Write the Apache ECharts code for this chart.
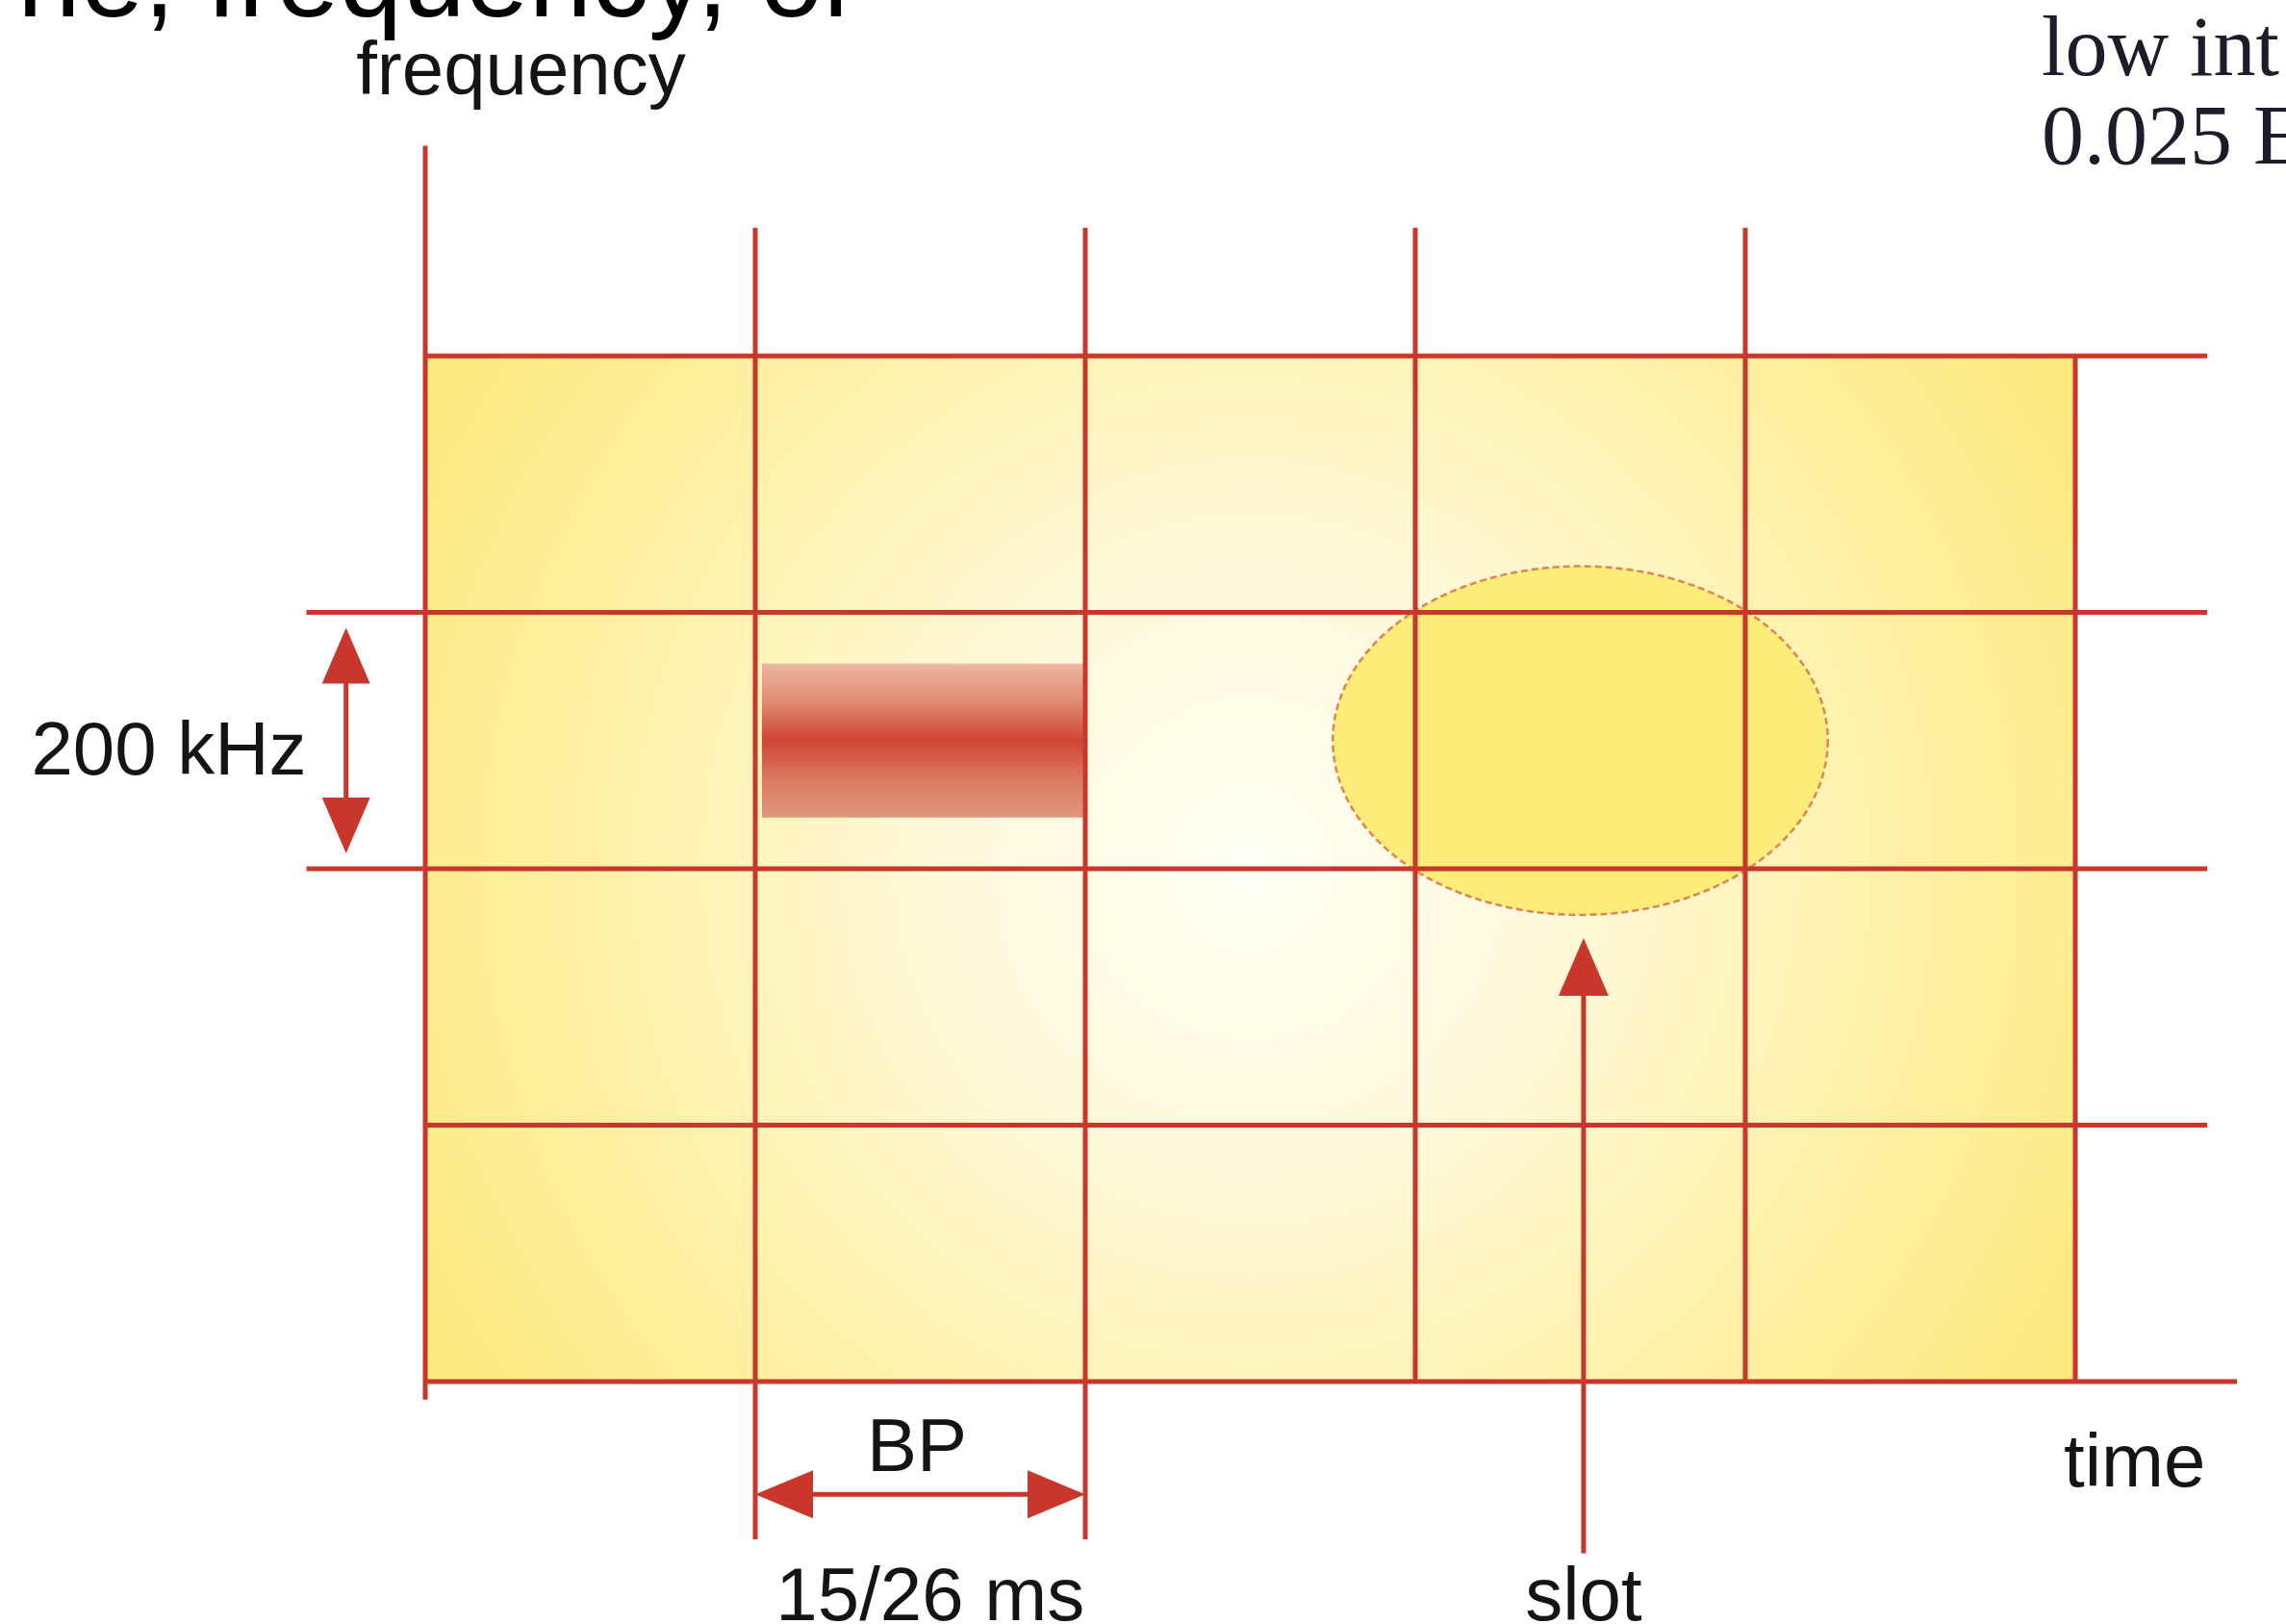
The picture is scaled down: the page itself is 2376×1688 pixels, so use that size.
<!DOCTYPE html>
<html><head><meta charset="utf-8">
<script src="https://cdn.jsdelivr.net/npm/echarts@6/dist/echarts.min.js"></script>
<style>html,body{margin:0;padding:0;background:#fff;overflow:hidden}#c{width:2376px;height:1688px}</style>
</head><body><div id="c"></div>
<script>
// ---- data (in time-slot / frequency-channel units) ----
const timeRange = [0, 5];
const channelRange = [0, 4];
const plane = [[0, 0, 5, 4]];                       // t0, f0, t1, f1
const verticalLines = [[0,-0.07,4.82],[1,-0.615,4.5],[2,-0.615,4.5],[3,0,4.5],[4,0,4.5],[5,0,4]]; // t, fFrom, fTo
const horizontalLines = [[0,0,5.49],[1,0,5.4],[2,-0.36,5.4],[3,-0.36,5.4],[4,0,5.4]];            // f, tFrom, tTo
const burst = [[1.02, 2.0, 2.2, 2.8]];              // t0, t1, f0, f1
const slotEllipse = [[3.5, 2.5, 0.75, 0.68]];       // tc, fc, rt, rf
const bandwidthArrow = [[-0.24, 2.06, 2.94]];       // t, fFrom, fTo
const bpArrow = [[1, 2, -0.44]];                    // tFrom, tTo, f
const slotArrow = [[3.51, -0.67, 1.73]];            // t, fFrom, fTo (head at fTo)
const labelTexts = ['frequency', '200 kHz', 'BP', '15/26 ms', 'slot', 'time'];
const labelT = [0.29, -0.36, 1.49, 1.53, 3.51, 5.18];
const labelF = [5.1, 2.45, -0.27, -0.85, -0.85, -0.33];
const labelAlign = ['center', 'right', 'center', 'center', 'center', 'center'];

// ---- style ----
const RED = '#C9372C';
const LW = 5;
const LABEL_FONT = '78px "Liberation Sans", Arial, sans-serif';
const TXT = '#141414';

const labelData = labelTexts.map((t, i) => [labelT[i], labelF[i], i]);

function arrowHead(tip, dir, len, half) {
  const bx = tip[0] - dir[0] * len, by = tip[1] - dir[1] * len;
  const nx = -dir[1], ny = dir[0];
  return [[tip[0], tip[1]], [bx + nx * half, by + ny * half], [bx - nx * half, by - ny * half]];
}

const chart = echarts.init(document.getElementById('c'), null, {renderer: 'canvas'});
chart.setOption({
  animation: false,
  backgroundColor: '#ffffff',
  grid: {left: 442, right: 219, top: 370, bottom: 252},
  xAxis: {type: 'value', min: timeRange[0], max: timeRange[1], show: false},
  yAxis: {type: 'value', min: channelRange[0], max: channelRange[1], show: false},
  graphic: [
    {type: 'text', x: 18, y: -16, z: 10, style: {text: 'ne, frequency, or', font: '118px "Liberation Sans", Arial, sans-serif', fill: '#000', verticalAlign: 'middle'}},
    {type: 'text', x: 2122, y: 55, z: 10, style: {text: 'low int', font: '88px "Liberation Serif", "Times New Roman", serif', fill: '#1c1c2a', verticalAlign: 'middle'}},
    {type: 'text', x: 2122, y: 147, z: 10, style: {text: '0.025 E', font: '88px "Liberation Serif", "Times New Roman", serif', fill: '#1c1c2a', verticalAlign: 'middle'}}
  ],
  series: [
    { // background plane
      type: 'custom', z: 1, clip: false, data: plane,
      renderItem: function (params, api) {
        const p0 = api.coord([api.value(0), api.value(3)]);
        const p1 = api.coord([api.value(2), api.value(1)]);
        return {type: 'rect', shape: {x: p0[0], y: p0[1], width: p1[0] - p0[0], height: p1[1] - p0[1]},
          style: {fill: new echarts.graphic.RadialGradient(0.5, 0.5, 1.0, [
            {offset: 0, color: '#FFFFF6'}, {offset: 0.3, color: '#FFF9DA'},
            {offset: 0.6, color: '#FEF2AC'}, {offset: 0.95, color: '#FDE97C'}, {offset: 1, color: '#FDE877'}])}};
      }
    },
    { // burst
      type: 'custom', z: 2, clip: false, data: burst,
      renderItem: function (params, api) {
        const p0 = api.coord([api.value(0), api.value(3)]);
        const p1 = api.coord([api.value(1), api.value(2)]);
        return {type: 'rect', shape: {x: p0[0], y: p0[1], width: p1[0] - p0[0], height: p1[1] - p0[1]},
          style: {fill: new echarts.graphic.LinearGradient(0, 0, 0, 1, [
            {offset: 0, color: '#EDB8A3'}, {offset: 0.25, color: '#E08A70'},
            {offset: 0.5, color: '#CF4535'}, {offset: 0.75, color: '#DB7A62'}, {offset: 1, color: '#E2967F'}])}};
      }
    },
    { // slot ellipse
      type: 'custom', z: 3, clip: false, data: slotEllipse,
      renderItem: function (params, api) {
        const c = api.coord([api.value(0), api.value(1)]);
        const e = api.coord([api.value(0) + api.value(2), api.value(1) + api.value(3)]);
        const rx = e[0] - c[0], ry = c[1] - e[1];
        const pts = [];
        for (let i = 0; i < 180; i++) {
          const a = i / 180 * Math.PI * 2;
          pts.push([c[0] + rx * Math.cos(a), c[1] + ry * Math.sin(a)]);
        }
        return {type: 'polygon', shape: {points: pts},
          style: {fill: '#FCEC7A', stroke: '#E0844E', lineWidth: 2.5, lineDash: [7, 4]}};
      }
    },
    { // vertical grid lines
      type: 'custom', z: 4, clip: false, data: verticalLines,
      renderItem: function (params, api) {
        const a = api.coord([api.value(0), api.value(1)]);
        const b = api.coord([api.value(0), api.value(2)]);
        return {type: 'line', shape: {x1: a[0], y1: a[1], x2: b[0], y2: b[1]}, style: {stroke: RED, lineWidth: LW}};
      }
    },
    { // horizontal grid lines
      type: 'custom', z: 4, clip: false, data: horizontalLines,
      renderItem: function (params, api) {
        const a = api.coord([api.value(1), api.value(0)]);
        const b = api.coord([api.value(2), api.value(0)]);
        return {type: 'line', shape: {x1: a[0], y1: a[1], x2: b[0], y2: b[1]}, style: {stroke: RED, lineWidth: LW}};
      }
    },
    { // 200 kHz double arrow
      type: 'custom', z: 5, clip: false, data: bandwidthArrow,
      renderItem: function (params, api) {
        const bot = api.coord([api.value(0), api.value(1)]);
        const top = api.coord([api.value(0), api.value(2)]);
        return {type: 'group', children: [
          {type: 'line', shape: {x1: top[0], y1: top[1] + 40, x2: bot[0], y2: bot[1] - 40}, style: {stroke: RED, lineWidth: LW}},
          {type: 'polygon', shape: {points: arrowHead(top, [0, -1], 58, 25)}, style: {fill: RED}},
          {type: 'polygon', shape: {points: arrowHead(bot, [0, 1], 58, 25)}, style: {fill: RED}}
        ]};
      }
    },
    { // BP double arrow
      type: 'custom', z: 5, clip: false, data: bpArrow,
      renderItem: function (params, api) {
        const l = api.coord([api.value(0), api.value(2)]);
        const r = api.coord([api.value(1), api.value(2)]);
        return {type: 'group', children: [
          {type: 'line', shape: {x1: l[0] + 40, y1: l[1], x2: r[0] - 40, y2: r[1]}, style: {stroke: RED, lineWidth: LW}},
          {type: 'polygon', shape: {points: arrowHead(l, [-1, 0], 60, 25)}, style: {fill: RED}},
          {type: 'polygon', shape: {points: arrowHead(r, [1, 0], 60, 25)}, style: {fill: RED}}
        ]};
      }
    },
    { // slot arrow
      type: 'custom', z: 5, clip: false, data: slotArrow,
      renderItem: function (params, api) {
        const b = api.coord([api.value(0), api.value(1)]);
        const t = api.coord([api.value(0), api.value(2)]);
        return {type: 'group', children: [
          {type: 'line', shape: {x1: b[0], y1: b[1], x2: t[0], y2: t[1] + 40}, style: {stroke: RED, lineWidth: LW}},
          {type: 'polygon', shape: {points: arrowHead(t, [0, -1], 60, 26)}, style: {fill: RED}}
        ]};
      }
    },
    { // labels
      type: 'custom', z: 6, clip: false, data: labelData,
      renderItem: function (params, api) {
        const p = api.coord([api.value(0), api.value(1)]);
        const i = api.value(2);
        return {type: 'text', x: p[0], y: p[1],
          style: {text: labelTexts[i], font: LABEL_FONT, fill: TXT, align: labelAlign[i], verticalAlign: 'middle'}};
      }
    }
  ]
});
</script></body></html>
